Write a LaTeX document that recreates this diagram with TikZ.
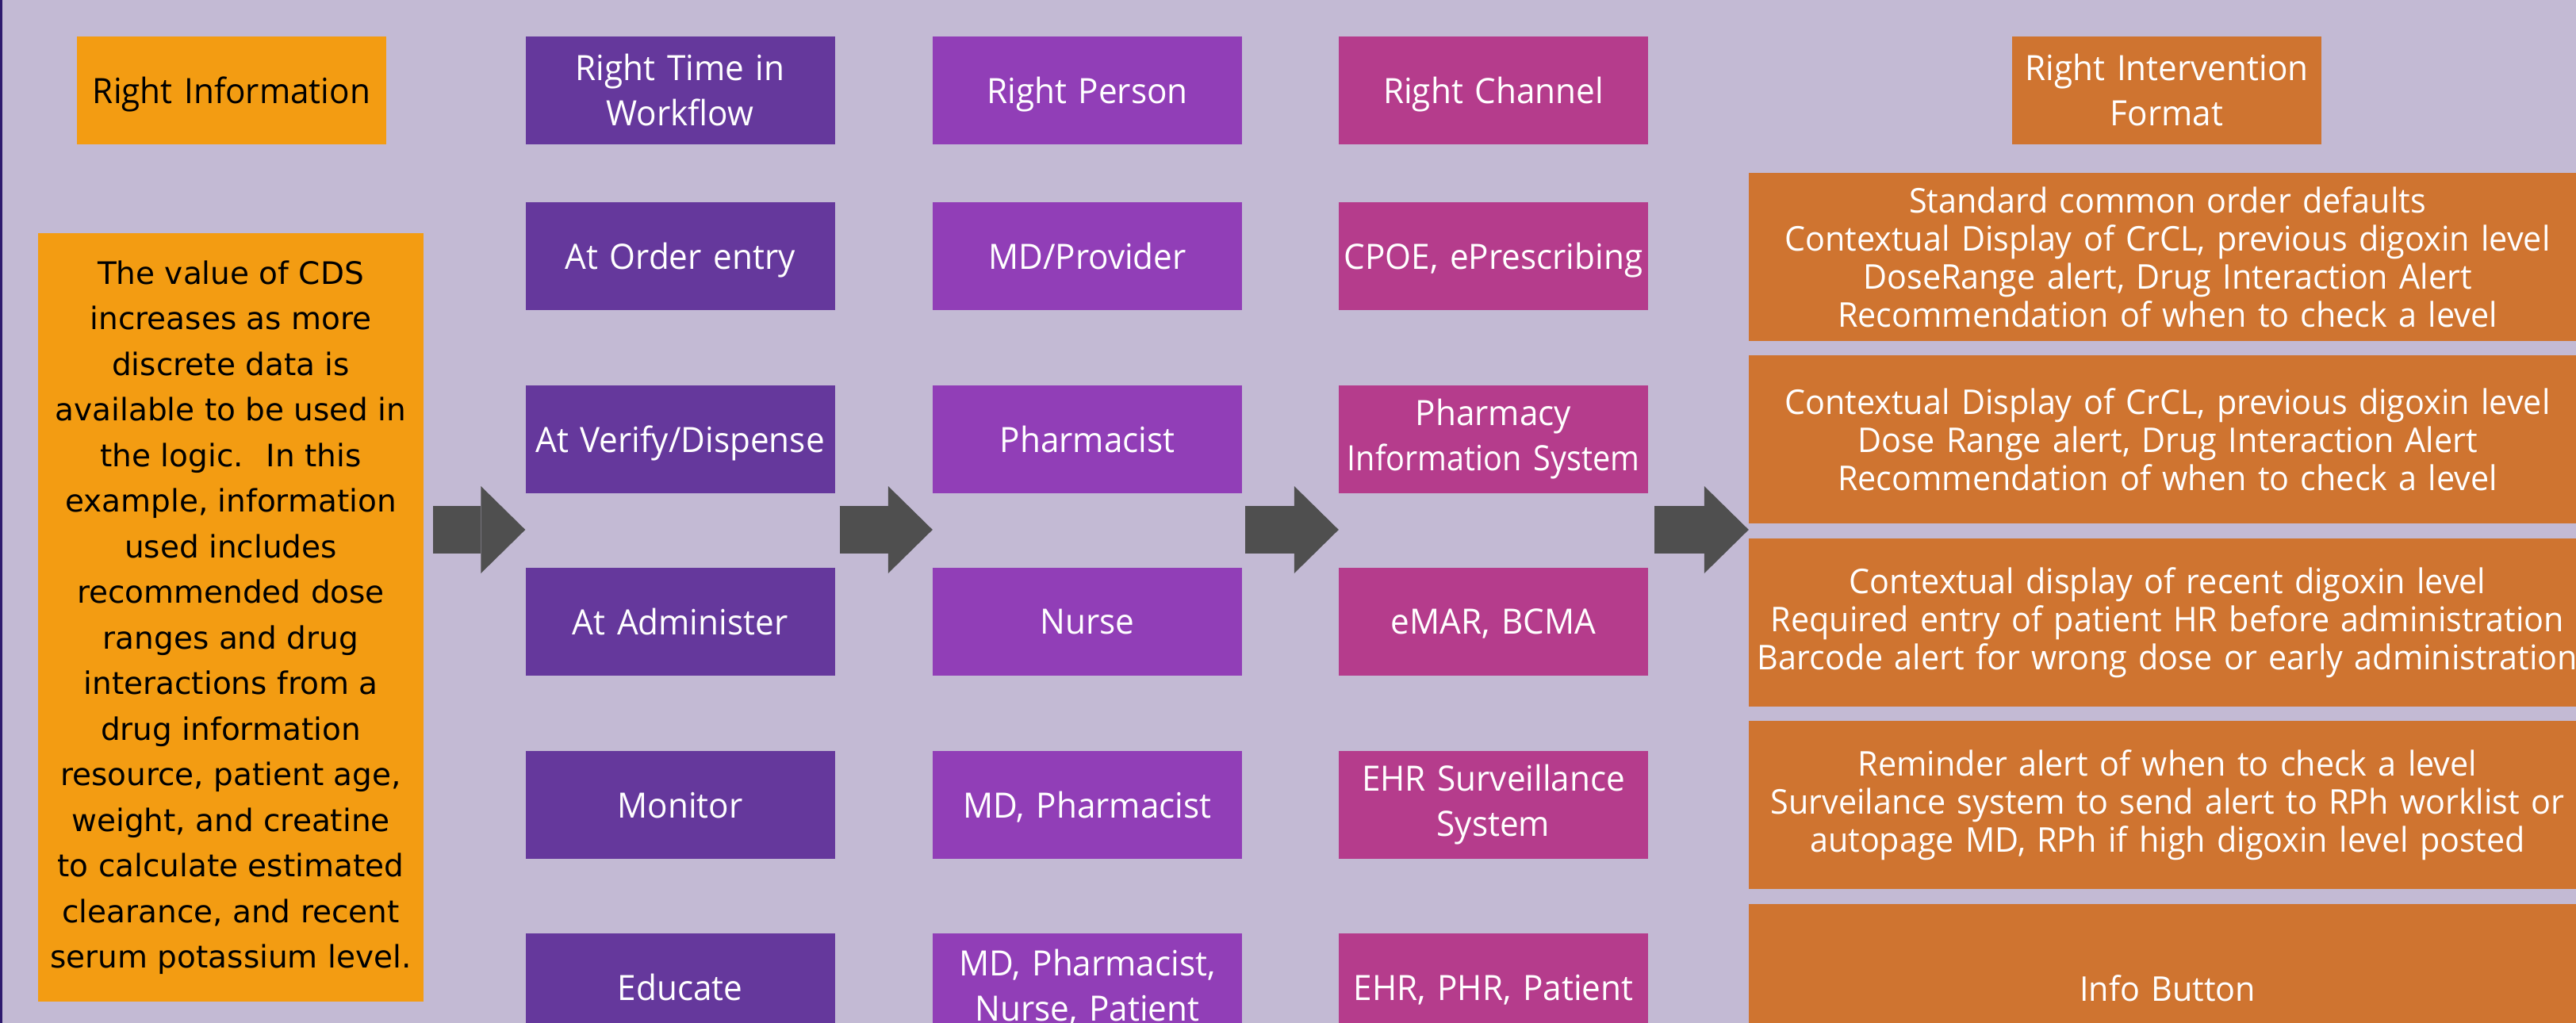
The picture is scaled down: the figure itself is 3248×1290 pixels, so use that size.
\documentclass[tikz,border=0pt]{standalone}
\usepackage{fontspec}
\usetikzlibrary{arrows.meta}
\newfontfamily\condfont{Open Sans}[FakeStretch=0.96]
\newfontfamily\narrowfont{Open Sans}[FakeStretch=0.9]
\newfontfamily\widefont{DejaVu Sans}
\definecolor{bg}{HTML}{C3BAD4}
\definecolor{cInfo}{HTML}{F39C12}
\definecolor{cTime}{HTML}{65389C}
\definecolor{cPers}{HTML}{913EB7}
\definecolor{cChan}{HTML}{B53C8C}
\definecolor{cForm}{HTML}{CF7430}
\definecolor{cArrow}{HTML}{4F4F4F}
\definecolor{cEdge}{HTML}{2E1A6E}
\tikzset{
  colbox/.style={rectangle, inner sep=0pt, minimum width=390pt, minimum height=136pt,
    text width=390pt, align=center, text=white,
    font=\condfont\fontsize{44}{57}\selectfont},
  oneline/.style={text depth=0pt},
  timebox/.style={colbox, fill=cTime},
  persbox/.style={colbox, fill=cPers},
  chanbox/.style={colbox, fill=cChan},
  formhead/.style={colbox, fill=cForm},
  infohead/.style={colbox, fill=cInfo, text=black},
  formbox/.style={rectangle, inner sep=0pt, minimum width=1056pt, minimum height=212pt,
    text width=1056pt, align=center, fill=cForm, text=white,
    font=\condfont\fontsize{43}{48}\selectfont},
  infobox/.style={rectangle, inner sep=0pt, minimum width=486pt, minimum height=969pt,
    align=center, fill=cInfo, text=black,
    font=\widefont\fontsize{39}{57.5}\selectfont},
  blockarrow/.style={draw=cArrow, line width=60pt,
    -{Triangle[length=56pt,width=110pt,line width=0pt]}}
}
\begin{document}
\begin{tikzpicture}[x=1pt,y=-1pt]
\useasboundingbox (0,0) rectangle (3248,1290);
\fill[bg] (0,0) rectangle (3248,1290);
\clip (0,0) rectangle (3248,1290);
\draw[cEdge, line width=2.5pt] (1.25,0) -- (1.25,1290);

% headers
\node[infohead, oneline] (i0) at (292,114) {Right Information};
\node[timebox]  (t0) at (857.5,114) {Right Time in\\Workflow};
\node[persbox, oneline]  (p0) at (1371,114) {Right Person};
\node[chanbox, oneline]  (c0) at (1883,114) {Right Channel};
\node[formhead] (f0) at (2732,114) {Right Intervention\\Format};

% left information box
\node[infobox] (L) at (291,778.5) {The value of CDS\\increases as more\\discrete data is\\available to be used in\\the logic.~ In this\\example, information\\used includes\\recommended dose\\ranges and drug\\interactions from a\\drug information\\resource, patient age,\\weight, and creatine\\to calculate estimated\\clearance, and recent\\serum potassium level.};

% time column
\node[timebox, oneline] (t1) at (857.5,323)   {At Order entry};
\node[timebox, oneline] (t2) at (857.5,553.5) {At Verify/Dispense};
\node[timebox, oneline] (t3) at (857.5,784)   {At Administer};
\node[timebox, oneline] (t4) at (857.5,1015)  {Monitor};
\node[timebox, oneline] (t5) at (857.5,1245)  {Educate};

% person column
\node[persbox, oneline] (p1) at (1371,323)   {MD/Provider};
\node[persbox, oneline] (p2) at (1371,553.5) {Pharmacist};
\node[persbox, oneline] (p3) at (1371,784)   {Nurse};
\node[persbox, oneline] (p4) at (1371,1015)  {MD, Pharmacist};
\node[persbox] (p5) at (1371,1245)  {MD, Pharmacist,\\Nurse, Patient};

% channel column
\node[chanbox, oneline] (c1) at (1883,323)   {CPOE, ePrescribing};
\node[chanbox] (c2) at (1883,553.5) {Pharmacy\\\makebox[0pt]{\narrowfont Information System}};
\node[chanbox, oneline] (c3) at (1883,784)   {eMAR, BCMA};
\node[chanbox] (c4) at (1883,1015)  {EHR Surveillance\\System};
\node[chanbox, oneline] (c5) at (1883,1245)  {EHR, PHR, Patient};

% intervention format column
\node[formbox] (f1) at (2733,324)  {Standard common order defaults\\Contextual Display of CrCL, previous digoxin level\\DoseRange alert, Drug Interaction Alert\\Recommendation of when to check a level};
\node[formbox] (f2) at (2733,554)  {Contextual Display of CrCL, previous digoxin level\\Dose Range alert, Drug Interaction Alert\\Recommendation of when to check a level};
\node[formbox] (f3) at (2733,785)  {Contextual display of recent digoxin level\\Required entry of patient HR before administration\\Barcode alert for wrong dose or early administration};
\node[formbox] (f4) at (2733,1015) {Reminder alert of when to check a level\\Surveilance system to send alert to RPh worklist or\\autopage MD, RPh if high digoxin level posted};
\node[formbox, oneline] (f5) at (2733,1246) {Info Button};

% block arrows
\coordinate (mid) at (0,668);
\draw[blockarrow, shorten <=12pt] (L.east |- mid) -- (t2.west |- mid);
\draw[blockarrow, shorten <=6pt]  (t2.east |- mid) -- (p2.west |- mid);
\draw[blockarrow, shorten <=4pt]  (p2.east |- mid) -- (c2.west |- mid);
\draw[blockarrow, shorten <=8pt]  (c2.east |- mid) -- (f2.west |- mid);
\end{tikzpicture}
\end{document}
